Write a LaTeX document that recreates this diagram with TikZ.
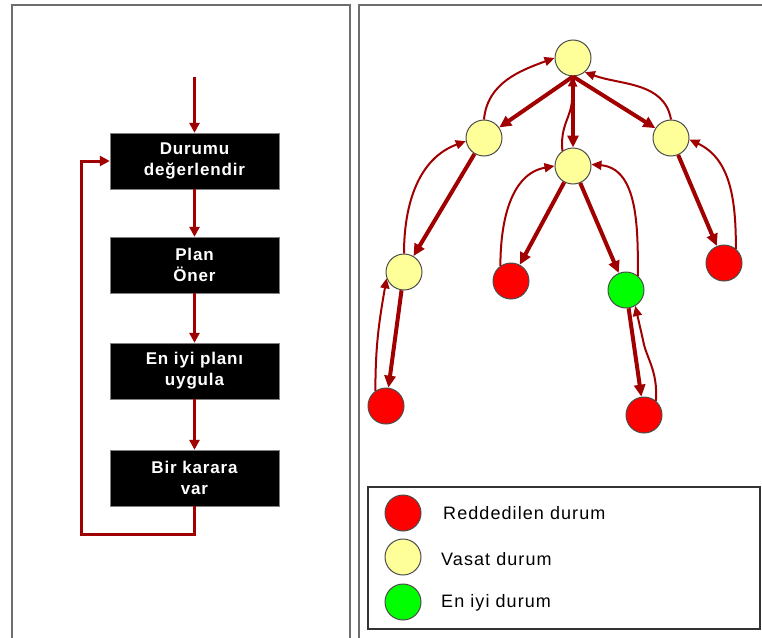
\documentclass[tikz,border=0pt]{standalone}
\usepackage{fontspec}
\setmainfont{Liberation Sans}
\usetikzlibrary{arrows.meta}
\definecolor{arrowred}{RGB}{160,0,0}
\definecolor{paleyellow}{RGB}{255,255,153}
\definecolor{panelgray}{RGB}{110,110,110}

\begin{document}
\begin{tikzpicture}[x=1pt,y=-1pt,
	box/.style={rectangle,fill=black,draw=gray,text=white,minimum width=169pt,minimum height=56pt,align=center,inner sep=0pt,font=\fontsize{17}{21}\selectfont\bfseries\addfontfeature{LetterSpace=5}},
	state/.style={circle,minimum size=36pt,inner sep=0pt,draw=black!70,line width=1pt},
	redstate/.style={state,fill=red},
	yellowstate/.style={state,fill=paleyellow},
	greenstate/.style={state,fill=green},
	flowarr/.style={arrowred,line width=3pt,-{Triangle[length=10pt,width=10pt]}},
	downarr/.style={arrowred,line width=4pt,-{Triangle[length=12pt,width=11pt]}},
	backarr/.style={arrowred,line width=2pt,-{Triangle[length=10pt,width=9pt]}},
	legendtext/.style={anchor=west,inner sep=0pt,font=\fontsize{18}{22}\selectfont\addfontfeature{LetterSpace=6}}]

\fill[white] (0,0) rectangle (762,637);
\useasboundingbox (0,0) rectangle (762,637);
\draw[panelgray,line width=2pt] (12,5) rectangle (350,650);
\draw[panelgray,line width=2pt] (359,5) rectangle (775,650);

%flowchart
\node[box] (durum) at (194.5,161) {Durumu\\değerlendir};
\node[box] (plan) at (194.5,265) {Plan\\Öner};
\node[box] (uygula) at (194.5,371) {En iyi planı\\uygula};
\node[box] (karar) at (194.5,478) {Bir karara\\var};
\coordinate (giris) at (194.5,77);
\coordinate (donus) at (81,534);

\draw[flowarr] (giris) -- (durum);
\draw[flowarr] (durum) -- (plan);
\draw[flowarr] (plan) -- (uygula);
\draw[flowarr] (uygula) -- (karar);
%loop back
\draw[flowarr] (karar.south) |- (donus) |- (durum.west);

%tree
\node[yellowstate] (s0) at (573,58) {};
\node[yellowstate] (s1) at (484,138) {};
\node[yellowstate] (s2) at (573,166) {};
\node[yellowstate] (s3) at (671,138) {};
\node[yellowstate] (s11) at (404,272) {};
\node[redstate] (s21) at (511,281) {};
\node[greenstate] (s22) at (626,290) {};
\node[redstate] (s31) at (724,263) {};
\node[redstate] (s111) at (386,406) {};
\node[redstate] (s221) at (644,415) {};

%down
\draw[downarr] (s0.south) -- (s1);
\draw[downarr] (s0.south) -- (s2);
\draw[downarr] (s0.south) -- (s3);
\draw[downarr] (s1) -- (s11);
\draw[downarr] (s11) -- (s111);
\draw[downarr] (s2) -- (s21);
\draw[downarr] (s2) -- (s22);
\draw[downarr] (s22) -- (s221);
\draw[downarr] (s3) -- (s31);

%back
\draw[backarr] (s1.north) to[out=85,in=200] (s0.west);
\draw[backarr] (s3.north) to[out=100,in=-20] (s0.-50);
\draw[backarr] (s2.125) .. controls (560,125) and (571,118) .. (572,100) -- (s0.south);
\draw[backarr] (s11.north) to[out=90,in=200] (s1.190);
\draw[backarr] (s111.125) to[out=90,in=-100] (s11.200);
\draw[backarr] (s21.125) to[out=90,in=190] (s2.west);
\draw[backarr] (s22.50) to[out=90,in=-5] (s2.5);
\draw[backarr] (s31.50) to[out=90,in=-25] (s3.-5);
\draw[backarr] (s221.50) .. controls (658,370) and (646,358) .. (643,340) -- (s22.-60);

%legend
\draw[black!80,line width=1.2pt] (368,487) rectangle (760,629);
\node[redstate] (lred) at (403,513) {};
\node[yellowstate] (lyellow) at (403,557) {};
\node[greenstate] (lgreen) at (403,602) {};
\node[legendtext] (tred) at (443,513) {Reddedilen durum};
\node[legendtext] (tyellow) at (441,559) {Vasat durum};
\node[legendtext] (tgreen) at (441,603) {En iyi durum};

\end{tikzpicture}
\end{document}
